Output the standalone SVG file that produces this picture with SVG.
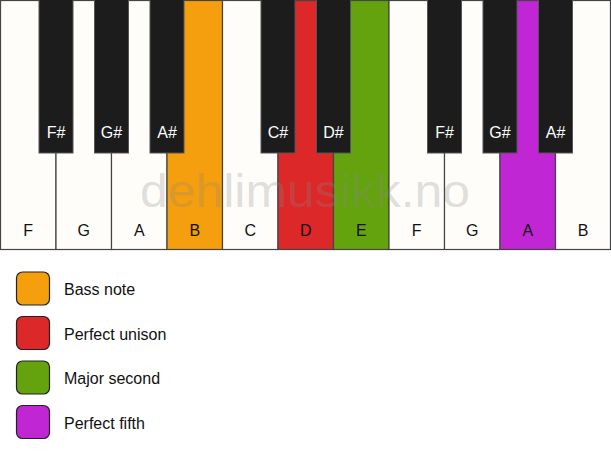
<svg xmlns="http://www.w3.org/2000/svg" width="611" height="461" viewBox="0 0 611 461">
<style>
.w{fill:#fffdf9;stroke:#444;stroke-width:1.2}
.b{fill:#1c1c1c;stroke:#555;stroke-width:1}
.wl{font-family:"Liberation Sans",Arial,sans-serif;font-size:16px;fill:#111;text-anchor:middle}
.bl{font-family:"Liberation Sans",Arial,sans-serif;font-size:16px;fill:#fff;text-anchor:middle}
.lg{stroke:#222;stroke-width:1.2}
.lt{font-family:"Liberation Sans",Arial,sans-serif;font-size:16px;fill:#111}
.wm{font-family:"Liberation Sans",Arial,sans-serif;font-size:46px;fill:#888;fill-opacity:0.27;text-anchor:middle}
</style>
<rect width="611" height="461" fill="#ffffff"/>
<g id="keyboard">
<g id="key-F1"><rect class="w" x="0.5" y="0.5" width="55.5" height="249"/><text class="wl" x="28.25" y="236">F</text></g>
<g id="key-G1"><rect class="w" x="56" y="0.5" width="55.5" height="249"/><text class="wl" x="83.75" y="236">G</text></g>
<g id="key-A1"><rect class="w" x="111.5" y="0.5" width="55.5" height="249"/><text class="wl" x="139.25" y="236">A</text></g>
<g id="key-B1"><rect class="w" x="167" y="0.5" width="55.5" height="249" style="fill:#f59e0e"/><text class="wl" x="194.75" y="236">B</text></g>
<g id="key-C"><rect class="w" x="222.5" y="0.5" width="55.5" height="249"/><text class="wl" x="250.25" y="236">C</text></g>
<g id="key-D"><rect class="w" x="278" y="0.5" width="55.5" height="249" style="fill:#dc2828"/><text class="wl" x="305.75" y="236">D</text></g>
<g id="key-E"><rect class="w" x="333.5" y="0.5" width="55.5" height="249" style="fill:#64a20e"/><text class="wl" x="361.25" y="236">E</text></g>
<g id="key-F2"><rect class="w" x="389" y="0.5" width="55.5" height="249"/><text class="wl" x="416.75" y="236">F</text></g>
<g id="key-G2"><rect class="w" x="444.5" y="0.5" width="55.5" height="249"/><text class="wl" x="472.25" y="236">G</text></g>
<g id="key-A2"><rect class="w" x="500" y="0.5" width="55.5" height="249" style="fill:#c026d3"/><text class="wl" x="527.75" y="236">A</text></g>
<g id="key-B2"><rect class="w" x="555.5" y="0.5" width="55" height="249"/><text class="wl" x="583" y="236">B</text></g>
<g id="key-Fs1"><rect class="b" x="39" y="-1" width="34" height="154"/><text class="bl" x="56" y="138">F#</text></g>
<g id="key-Gs1"><rect class="b" x="94.5" y="-1" width="34" height="154"/><text class="bl" x="111.5" y="138">G#</text></g>
<g id="key-As1"><rect class="b" x="150" y="-1" width="34" height="154"/><text class="bl" x="167" y="138">A#</text></g>
<g id="key-Cs"><rect class="b" x="261" y="-1" width="34" height="154"/><text class="bl" x="278" y="138">C#</text></g>
<g id="key-Ds"><rect class="b" x="316.5" y="-1" width="34" height="154"/><text class="bl" x="333.5" y="138">D#</text></g>
<g id="key-Fs2"><rect class="b" x="427.5" y="-1" width="34" height="154"/><text class="bl" x="444.5" y="138">F#</text></g>
<g id="key-Gs2"><rect class="b" x="483" y="-1" width="34" height="154"/><text class="bl" x="500" y="138">G#</text></g>
<g id="key-As2"><rect class="b" x="538.5" y="-1" width="34" height="154"/><text class="bl" x="555.5" y="138">A#</text></g>
</g>
<text class="wm" x="305" y="207" textLength="330" lengthAdjust="spacingAndGlyphs">dehlimusikk.no</text>
<g id="legend">
<g id="legend-bass"><rect class="lg" x="16.5" y="272" width="33" height="33" rx="6" fill="#f59e0e"/><text class="lt" x="64" y="295">Bass note</text></g>
<g id="legend-unison"><rect class="lg" x="16.5" y="316.5" width="33" height="33" rx="6" fill="#dc2828"/><text class="lt" x="64" y="339.5">Perfect unison</text></g>
<g id="legend-second"><rect class="lg" x="16.5" y="361" width="33" height="33" rx="6" fill="#64a20e"/><text class="lt" x="64" y="384">Major second</text></g>
<g id="legend-fifth"><rect class="lg" x="16.5" y="405.5" width="33" height="33" rx="6" fill="#c026d3"/><text class="lt" x="64" y="428.5">Perfect fifth</text></g>
</g>
<g id="connectors"/>
</svg>
